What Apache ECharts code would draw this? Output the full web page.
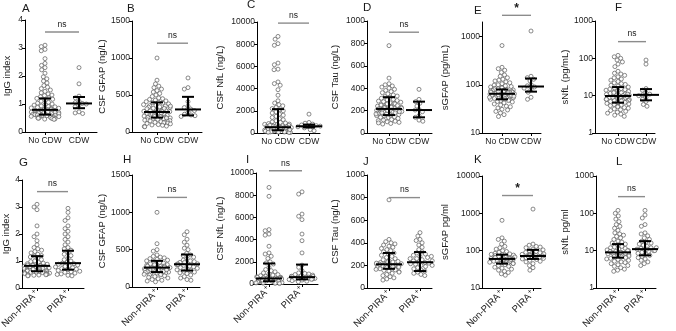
<!DOCTYPE html>
<html><head><meta charset="utf-8">
<script src="https://cdn.jsdelivr.net/npm/echarts@6/dist/echarts.min.js"></script>
<style>html,body{margin:0;padding:0;background:#fff}#c{width:676px;height:331px}</style>
</head><body><div id="c"></div>
<script>
// ---------- categories ----------
var topCats = ['No CDW', 'CDW'];
var botCats = ['Non-PIRA', 'PIRA'];
var letters = ['A','B','C','D','E','F','G','H','I','J','K','L'];
var yTitles = ['IgG index','CSF GFAP (ng/L)','CSF NfL (ng/L)','CSF Tau (ng/L)','sGFAP (pg/mL)','sNfL (pg/mL)',
               'IgG index','CSF GFAP (ng/L)','CSF NfL (ng/L)','CSF Tau (ng/L)','sGFAP pg/ml','sNfL pg/ml'];
// ---------- tick labels ----------
var ticksIgG = [0,1,2,3,4];
var ticksGFAP = [0,500,1000,1500];
var ticksNfL = [0,2000,4000,6000,8000,10000];
var ticksTau = [0,200,400,600,800,1000];
var ticksSGFAPtop = [10,100,1000];
var ticksSGFAPbot = [10,100,1000,10000];
var ticksSNfL = [1,10,100,1000];
// ---------- data: top row (No CDW vs CDW) ----------
var A_noCDW = [3.1,3.05,2.95,2.9,2.62,2.45,2.38,2.3,2.22,2.1,1.97,1.9,1.82,1.75,1.66,1.6,1.55,1.5,1.45,1.4,1.36,1.32,1.3,1.26,1.22,1.2,1.17,1.13,1.1,1.06,1.03,1.0,0.98,0.96,0.93,0.91,0.9,0.88,0.86,0.85,0.84,0.82,0.81,0.8,0.79,0.78,0.77,0.76,0.75,0.75,0.74,0.73,0.72,0.71,0.7,0.7,0.69,0.68,0.67,0.66,0.65,0.65,0.64,0.63,0.62,0.61,0.6,0.6,0.59,0.58,0.57,0.56,0.55,0.55,0.54,0.53,0.52,0.51,0.5,0.5,0.49,0.48,0.47,0.46,0.45];
var A_CDW = [2.3,1.72,1.28,1.22,1.1,1.05,1.02,1.0,0.95,0.9,0.72,0.68,0.66];
var B_noCDW = [1000,700,650,620,600,580,560,540,520,500,480,460,450,440,430,420,410,400,395,390,380,370,360,355,350,340,335,330,320,315,310,300,295,290,285,280,275,270,265,260,255,250,245,240,235,230,225,220,215,210,205,200,195,190,185,180,175,170,165,160,155,150,145,140,135,130,125,120,115,110,100,95,90,80,75,70,300,280,260,240,320,350,230,210,190];
var B_CDW = [730,600,580,410,350,330,310,290,265,240,230,220,210];
var C_noCDW = [8700,8450,8050,7900,6300,6150,5750,5700,4600,4450,4300,3900,3400,2900,2700,2550,2450,2300,2200,2100,2000,1900,1800,1700,1600,1500,1400,1300,1200,1100,1000,950,900,850,800,780,750,700,680,650,620,600,580,560,540,520,500,490,480,460,450,440,420,400,390,380,360,350,340,320,300,290,280,260,250,240,220,200,190,180,160,150,130,120,100,90,80,60,50,40,700,500,450,350,300];
var C_CDW = [1700,950,880,800,720,660,620,600,560,520,460,300,200];
var D_noCDW = [780,490,440,430,420,410,400,390,380,370,360,350,340,330,325,320,310,300,295,290,285,280,275,270,265,260,255,250,245,240,235,230,228,225,222,220,218,215,212,210,208,205,202,200,198,195,192,190,188,185,182,180,178,175,172,170,165,160,155,150,145,140,135,130,125,120,115,110,105,100,95,90,85,80,230,210,190,250,260,200,180,170];
var D_CDW = [390,300,280,265,240,210,205,190,155,140,115,105];
var E_noCDW = [650,230,215,200,180,160,150,140,130,125,120,115,110,105,100,98,95,92,90,88,86,84,82,80,79,78,77,76,75,74,73,72,71,70,69,68,67,66,65,64,63,62,61,60,59,58,57,56,55,54,53,52,51,50,49,48,47,46,45,44,42,40,38,36,35,33,31,30,28,26,24,22,65,70,60,55,75,68,62,58,72];
var E_CDW = [1300,150,140,130,120,100,95,90,85,80,70,55,50];
var F_noCDW = [120,110,100,90,80,70,60,45,40,38,35,32,30,28,26,24,22,21,20,19,18,17,16,15.5,15,14.5,14,13.5,13,12.5,12,11.5,11,10.8,10.5,10.2,10,9.8,9.6,9.4,9.2,9,8.8,8.6,8.4,8.2,8,7.8,7.6,7.4,7.2,7,6.8,6.6,6.4,6.2,6,5.8,5.6,5.4,5.2,5,4.8,4.6,4.4,4.2,4,3.8,3.6,3.4,3.2,3,2.8,9,10,11,8,12,9.5];
var F_CDW = [90,70,15.5,14,12,11,10.5,10,9,8,7,5.8,5.2];
// ---------- data: bottom row (Non-PIRA vs PIRA) ----------
var G_non = [3.1,3.0,2.9,2.3,2.0,1.9,1.75,1.6,1.5,1.45,1.4,1.35,1.3,1.25,1.2,1.18,1.15,1.1,1.05,1.0,0.98,0.95,0.92,0.9,0.88,0.86,0.85,0.84,0.83,0.82,0.81,0.8,0.79,0.78,0.77,0.76,0.75,0.74,0.73,0.72,0.71,0.7,0.69,0.68,0.67,0.66,0.65,0.64,0.63,0.62,0.61,0.6,0.59,0.58,0.57,0.56,0.55,0.54,0.53,0.52,0.51,0.5,0.49,0.48,0.47,0.46,0.45];
var G_pira = [2.95,2.8,2.6,2.5,2.3,2.2,2.1,2.0,1.9,1.8,1.7,1.6,1.5,1.45,1.4,1.3,1.25,1.2,1.1,1.05,1.0,0.95,0.92,0.9,0.88,0.85,0.82,0.8,0.78,0.75,0.72,0.7,0.68,0.65,0.62,0.6,0.58,0.55,0.52,0.5,0.47,0.45];
var H_non = [1000,580,500,480,430,410,400,390,380,370,360,350,340,330,320,310,300,295,290,285,280,275,270,265,260,255,250,245,240,235,230,225,220,215,210,205,200,195,190,185,180,175,170,165,160,150,140,130,120,110,100,90,80,70,260,250,240,280,300,220,210,230];
var H_pira = [740,700,640,600,560,520,500,450,430,420,400,380,360,350,340,330,320,310,300,290,280,270,260,250,240,230,220,210,200,190,180,160,140,120,100,90,310,300,330];
var I_non = [8700,7900,4900,4800,4500,4400,3400,2800,2700,2500,2300,2000,1900,1800,1500,1300,1200,1100,1000,900,850,800,750,700,650,600,580,560,540,520,500,480,460,440,420,400,380,360,340,320,300,280,260,240,220,200,180,160,140,120,100,80,60,40,500,450,550,400,350,600];
var I_pira = [8300,8100,6300,6100,5800,4500,3900,2800,1700,1500,1200,1000,950,900,850,800,750,700,680,650,620,600,580,560,540,520,500,480,460,440,420,400,350,300,250,200];
var J_non = [780,430,410,400,390,380,370,360,350,340,330,320,310,300,290,280,270,260,250,240,235,230,225,220,215,210,208,205,202,200,198,195,192,190,188,185,182,180,175,170,165,160,155,150,145,140,130,120,110,100,90,80,70,210,200,220,190,230];
var J_pira = [490,460,430,420,400,380,360,340,320,310,300,290,280,270,260,250,240,230,225,220,215,210,200,190,180,170,160,150,140,130,120,110,240,260,280,200];
var K_non = [650,220,200,180,150,130,120,110,100,95,90,85,82,80,78,76,74,72,70,68,66,64,62,60,59,58,57,56,55,54,53,52,51,50,49,48,47,46,45,44,42,40,38,36,34,32,30,28,26,24,22,60,62,58,65,55];
var K_pira = [1300,150,140,130,125,120,110,105,100,95,90,88,85,82,80,78,76,74,72,70,68,66,64,62,60,58,55,52,50,45,40,35,30,72,75,70];
var L_non = [120,100,85,70,60,50,45,40,35,30,28,26,24,22,20,18,17,16,15,14,13,12.5,12,11.5,11,10.5,10,9.5,9,8.8,8.6,8.4,8.2,8,7.8,7.5,7.2,7,6.8,6.5,6.2,6,5.8,5.5,5.2,5,4.8,4.5,4.2,4,3.8,3.5,3.2,3,2.8,9,8.5,9.5,10];
var L_pira = [120,90,75,50,45,30,28,25,22,20,18,17,16,15,14,13,12,11.5,11,10.5,10,9.5,9,8.5,8,7.5,7,6.5,6,5.5,5,4.5,4,11,12,10];
// ---------- median, Q1, Q3 per group ----------
var statsG1 = [[0.79,0.62,1.2],[270,195,400],[520,250,2150],[215,160,320],[65,50,80],[9.8,6.5,17],
               [0.82,0.62,1.18],[260,200,350],[500,250,1850],[210,170,310],[60,45,78],[9,6.5,15]];
var statsG2 = [[1.02,0.85,1.25],[305,225,475],[610,500,760],[205,140,280],[92,72,135],[10.5,7.5,15],
               [0.92,0.68,1.38],[305,220,435],[620,420,1750],[228,150,318],[72,60,105],[11,7.5,18]];
// ---------- significance bar level and label ----------
var sigLevel = [3.57,1200,9900,900,2750,280, 3.57,1200,10200,800,3000,280];
var sigLabel = ['ns','ns','ns','ns','*','ns','ns','ns','ns','ns','*','ns'];

// ---------- layout (pixels) ----------
// [yAxisX, xEnd, topY, bottomY, center1, center2, nameGap, letterX, letterY]
var layout = [
  [25,97,20,132,45,79,13,26,10],
  [132,202,21,132,157,188,22,131,10],
  [257,320,22,133,278,309,32,251,6],
  [367,432,21,133,389,419,27,367,9],
  [482,541,22,133,502,531,32,478,12],
  [595,655,21,133,618,646,25,619,9],
  [22,84,180,288,37,68,10,23,164],
  [132,200,175,287,157,187,22,127,161],
  [256,318,173,284,269,302,31,250,161],
  [367,432,175,288,389,420,27,367,163],
  [482,541,176,288,502,533,32,478,161],
  [596,656,176,288,618,645,26,620,163]
];
var groups1 = [A_noCDW,B_noCDW,C_noCDW,D_noCDW,E_noCDW,F_noCDW,G_non,H_non,I_non,J_non,K_non,L_non];
var groups2 = [A_CDW,B_CDW,C_CDW,D_CDW,E_CDW,F_CDW,G_pira,H_pira,I_pira,J_pira,K_pira,L_pira];
var tickSets = [ticksIgG,ticksGFAP,ticksNfL,ticksTau,ticksSGFAPtop,ticksSNfL,ticksIgG,ticksGFAP,ticksNfL,ticksTau,ticksSGFAPbot,ticksSNfL];
var ranges = [[0,4],[0,1500],[0,10000],[0,1000],[10,2000],[1,1000],[0,4],[0,1500],[0,10000],[0,1000],[10,10000],[1,1000]];
var isLog = [false,false,false,false,true,true,false,false,false,false,true,true];

var FONT = '"Liberation Sans", Arial, sans-serif';
var TXT = '#1a1a1a';

function fmt(v){ return String(Math.round(v)); }

function renderErr(params, api){
  var x = api.value(0);
  var pm = api.coord([x, api.value(1)]);
  var p1 = api.coord([x, api.value(2)]);
  var p3 = api.coord([x, api.value(3)]);
  var hw = 13, cw = 6;
  var st = {stroke:'#000', lineWidth:2};
  return {type:'group', children:[
    {type:'line', shape:{x1:pm[0]-hw,y1:pm[1],x2:pm[0]+hw,y2:pm[1]}, style:st},
    {type:'line', shape:{x1:p1[0],y1:p1[1],x2:p3[0],y2:p3[1]}, style:st},
    {type:'line', shape:{x1:p1[0]-cw,y1:p1[1],x2:p1[0]+cw,y2:p1[1]}, style:st},
    {type:'line', shape:{x1:p3[0]-cw,y1:p3[1],x2:p3[0]+cw,y2:p3[1]}, style:st}
  ]};
}
function makeSig(label){
  return function(params, api){
    var a = api.coord([api.value(0), api.value(2)]);
    var b = api.coord([api.value(1), api.value(2)]);
    var star = label === '*';
    return {type:'group', children:[
      {type:'line', shape:{x1:a[0],y1:a[1],x2:b[0],y2:b[1]}, style:{stroke:'#8c8c8c', lineWidth:1.4}},
      {type:'text', style:{text:label, x:(a[0]+b[0])/2, y:a[1]-(star?1:3), align:'center', verticalAlign:'bottom',
        fontSize: star?12:8.5, fontWeight: star?'bold':'normal', fontFamily:FONT, fill:TXT}}
    ]};
  };
}

var grids=[], xAxes=[], yAxes=[], series=[], titles=[];
for (var i=0;i<12;i++){
  var L = layout[i];
  var d = L[5]-L[4];
  var h = L[3]-L[2];
  var bottomRow = i>=6;
  grids.push({left:L[0], top:L[2], width:L[1]-L[0], height:h, outerBoundsMode:'none', containLabel:false});
  grids.push({left:L[4]-d/2, top:L[2], width:2*d, height:h, outerBoundsMode:'none', containLabel:false});
  var yType = isLog[i] ? 'log' : 'value';
  xAxes.push({type:'value', gridIndex:2*i, min:0, max:1, axisLine:{show:true, lineStyle:{color:'#000', width:1}},
    axisTick:{show:false}, axisLabel:{show:false}, splitLine:{show:false}});
  yAxes.push({type:yType, gridIndex:2*i, logBase:10, min:ranges[i][0], max:ranges[i][1],
    axisLine:{show:true, lineStyle:{color:'#000', width:1}},
    axisTick:{show:true, length:3, lineStyle:{color:'#000'}, customValues:tickSets[i]},
    axisLabel:{customValues:tickSets[i], formatter:fmt, fontSize:8.5, color:TXT, margin:2, fontFamily:FONT},
    splitLine:{show:false}, minorTick:{show:false},
    name:yTitles[i], nameLocation:'middle', nameGap:L[6],
    nameTextStyle:{fontSize:9.5, color:TXT, fontFamily:FONT}});
  var xa = {type:'category', gridIndex:2*i+1, data: bottomRow ? botCats : topCats,
    boundaryGap:true,
    axisLine:{show:false},
    axisTick:{show:true, alignWithLabel:true, length:3, lineStyle:{color:'#000'}},
    axisLabel:{interval:0, fontSize:8.5, color:TXT, margin:4, fontFamily:FONT},
    jitter:bottomRow?26:28, jitterOverlap:false, jitterMargin:0};
  if (bottomRow){
    xa.axisLabel.rotate = 45;
    xa.axisLabel.formatter = function(v){ return '{n|'+v+'}{s|+}'; };
    xa.axisLabel.rich = {n:{fontSize:9.5, color:TXT, fontFamily:FONT}, s:{fontSize:6.5, color:TXT, fontFamily:FONT, verticalAlign:'top', padding:[0,0,5,1]}};
  }
  xAxes.push(xa);
  yAxes.push({type:yType, gridIndex:2*i+1, logBase:10, min:ranges[i][0], max:ranges[i][1], show:false});
  var pts = groups1[i].map(function(v){return [0,v];}).concat(groups2[i].map(function(v){return [1,v];}));
  series.push({type:'scatter', xAxisIndex:2*i+1, yAxisIndex:2*i+1, data:pts, symbol:'circle', symbolSize:4,
    itemStyle:{color:'#fff', borderColor:'#5e5e5e', borderWidth:0.9}, silent:true, z:2});
  series.push({type:'custom', xAxisIndex:2*i+1, yAxisIndex:2*i+1,
    data:[[0].concat(statsG1[i]), [1].concat(statsG2[i])], encode:{x:0, y:[1,2,3]},
    renderItem:renderErr, silent:true, z:5, clip:false});
  series.push({type:'custom', xAxisIndex:2*i+1, yAxisIndex:2*i+1,
    data:[[0,1,sigLevel[i]]], encode:{x:[0,1], y:2},
    renderItem:makeSig(sigLabel[i]), silent:true, z:5, clip:false});
  titles.push({text:letters[i], left:L[7]-4, top:L[8]-7,
    textStyle:{fontSize:11.5, fontWeight:'normal', color:TXT, fontFamily:FONT}, padding:0});
}

var chart = echarts.init(document.getElementById('c'), null, {renderer:'canvas'});
chart.setOption({
  animation:false,
  backgroundColor:'#fff',
  textStyle:{fontFamily:FONT},
  title:titles,
  grid:grids, xAxis:xAxes, yAxis:yAxes, series:series
});
</script></body></html>
